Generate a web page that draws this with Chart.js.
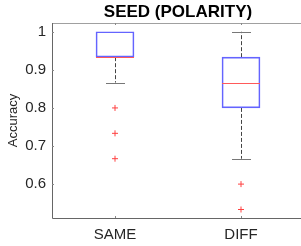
<!DOCTYPE html>
<html>
<head>
<meta charset="utf-8">
<script src="https://cdn.jsdelivr.net/npm/chart.js@4/dist/chart.umd.min.js"></script>
<style>
  html, body { margin: 0; padding: 0; background: #fff; overflow: hidden; }
  #wrap { width: 301px; height: 246px; overflow: hidden; }
</style>
</head>
<body>
<div id="wrap"><canvas id="grafico" width="309" height="246"></canvas></div>
<script>
// datos
const categorias = ['SAME', 'DIFF'];
const cuartilInf = [0.9333, 0.8];
const cuartilSup = [1.0, 0.9333];
const medianas = [0.9333, 0.8667];
const bigoteInf = [0.8667, 0.6667];
const bigoteSup = [1.0, 1.0];
const atipicosSame = [0.8, 0.7333, 0.6667];
const atipicosDiff = [0.6, 0.5333];
const ticksY = [0.6, 0.7, 0.8, 0.9, 1];

const fuente = "'Liberation Sans', Arial, Helvetica, sans-serif";

function sinPadding(s, alto) {
    s.height = alto;
    s.paddingLeft = 0;
    s.paddingRight = 0;
}

// ejes, bigotes, topes, medianas y marcas hacia dentro (estilo MATLAB)
const cajasPlugin = {
    id: 'cajas',
    beforeDatasetsDraw(chart) {
        const ctx = chart.ctx, x = chart.scales.x, y = chart.scales.y;
        const area = chart.chartArea;
        ctx.save();
        ctx.lineWidth = 1;
        // marco
        ctx.strokeStyle = '#a0a0a0';
        ctx.beginPath();
        ctx.moveTo(area.left, Math.round(area.top) + 0.5);
        ctx.lineTo(chart.width, Math.round(area.top) + 0.5);
        ctx.stroke();
        ctx.strokeStyle = '#666';
        ctx.beginPath();
        ctx.moveTo(Math.round(area.left) + 0.5, area.top);
        ctx.lineTo(Math.round(area.left) + 0.5, Math.round(area.bottom) + 0.5);
        ctx.lineTo(chart.width, Math.round(area.bottom) + 0.5);
        ctx.stroke();

        categorias.forEach(function(c, i) {
            const cx = Math.round(x.getPixelForValue(i)) + 0.5;
            const medio = chart.getDatasetMeta(0).data[i].width / 4;
            ctx.strokeStyle = '#444';
            ctx.setLineDash([4, 2]);
            ctx.beginPath();
            ctx.moveTo(cx, y.getPixelForValue(cuartilSup[i]));
            ctx.lineTo(cx, y.getPixelForValue(bigoteSup[i]));
            ctx.moveTo(cx, y.getPixelForValue(cuartilInf[i]));
            ctx.lineTo(cx, y.getPixelForValue(bigoteInf[i]));
            ctx.stroke();
            ctx.setLineDash([]);
            ctx.strokeStyle = '#777';
            [bigoteSup[i], bigoteInf[i]].forEach(function(v) {
                const py = Math.round(y.getPixelForValue(v)) + 0.5;
                ctx.beginPath();
                ctx.moveTo(cx - medio, py);
                ctx.lineTo(cx + medio, py);
                ctx.stroke();
            });
        });
        ctx.restore();
    },
    afterDatasetsDraw(chart) {
        const ctx = chart.ctx, x = chart.scales.x, y = chart.scales.y;
        const area = chart.chartArea;
        ctx.save();
        ctx.lineWidth = 1;
        ctx.strokeStyle = '#ff5a5a';
        categorias.forEach(function(c, i) {
            const bar = chart.getDatasetMeta(0).data[i];
            const py = Math.round(y.getPixelForValue(medianas[i])) + 0.5;
            ctx.beginPath();
            ctx.moveTo(bar.x - bar.width / 2, py);
            ctx.lineTo(bar.x + bar.width / 2, py);
            ctx.stroke();
        });
        ctx.strokeStyle = '#888';
        ticksY.forEach(function(v) {
            const py = Math.round(y.getPixelForValue(v)) + 0.5;
            ctx.beginPath();
            ctx.moveTo(area.left, py);
            ctx.lineTo(area.left + 2, py);
            ctx.stroke();
        });
        categorias.forEach(function(c, i) {
            const px = Math.round(x.getPixelForValue(i)) + 0.5;
            ctx.beginPath();
            ctx.moveTo(px, area.bottom);
            ctx.lineTo(px, area.bottom - 2);
            ctx.moveTo(px, area.top);
            ctx.lineTo(px, area.top + 2);
            ctx.stroke();
        });
        ctx.restore();
    }
};

const ctx = document.getElementById('grafico').getContext('2d');

new Chart(ctx, {
    type: 'bar',
    data: {
        labels: categorias,
        datasets: [{
            label: 'caja',
            data: categorias.map(function(c, i) { return [cuartilInf[i], cuartilSup[i]]; }),
            backgroundColor: 'rgba(0, 0, 0, 0)',
            borderColor: '#6464ff',
            borderWidth: 1,
            borderSkipped: false,
            barThickness: 38
        }, {
            type: 'scatter',
            label: 'atipicos',
            data: atipicosSame.map(function(v) { return { x: categorias[0], y: v }; })
                .concat(atipicosDiff.map(function(v) { return { x: categorias[1], y: v }; })),
            pointStyle: 'cross',
            pointRadius: 3,
            borderColor: '#ff4040',
            borderWidth: 1
        }]
    },
    options: {
        responsive: false,
        animation: false,
        devicePixelRatio: 1,
        layout: { padding: { left: 0, right: 1, top: 0, bottom: 0 } },
        plugins: {
            legend: { display: false },
            tooltip: { enabled: false },
            title: { display: false }
        },
        scales: {
            x: {
                type: 'category',
                offset: true,
                grid: { display: false, drawTicks: false },
                border: { display: false },
                ticks: { font: { family: fuente, size: 15 }, color: '#262626', padding: 8 },
                afterFit: function(s) { sinPadding(s, 28); }
            },
            x2: {
                type: 'category',
                position: 'top',
                offset: true,
                grid: { display: false, drawTicks: false },
                border: { display: false },
                ticks: { display: false },
                title: {
                    display: true,
                    text: 'SEED (POLARITY)',
                    color: '#000',
                    font: { family: fuente, size: 17, weight: 'bold' },
                    padding: { top: 2, bottom: 2 }
                },
                afterFit: function(s) { sinPadding(s, 23); }
            },
            y: {
                min: 0.511,
                max: 1.023,
                afterBuildTicks: function(s) { s.ticks = ticksY.map(function(v) { return { value: v }; }); },
                grid: { display: false, drawTicks: false },
                border: { display: false },
                ticks: {
                    font: { family: fuente, size: 15 },
                    color: '#262626',
                    padding: 6,
                    callback: function(v) { return v === 1 ? '1' : v.toFixed(1); }
                },
                title: {
                    display: true,
                    text: 'Accuracy',
                    color: '#262626',
                    font: { family: fuente, size: 13 },
                    padding: { top: 6, bottom: 0 }
                },
                afterFit: function(s) { s.width = 52; }
            }
        }
    },
    plugins: [cajasPlugin]
});
</script>
</body>
</html>
